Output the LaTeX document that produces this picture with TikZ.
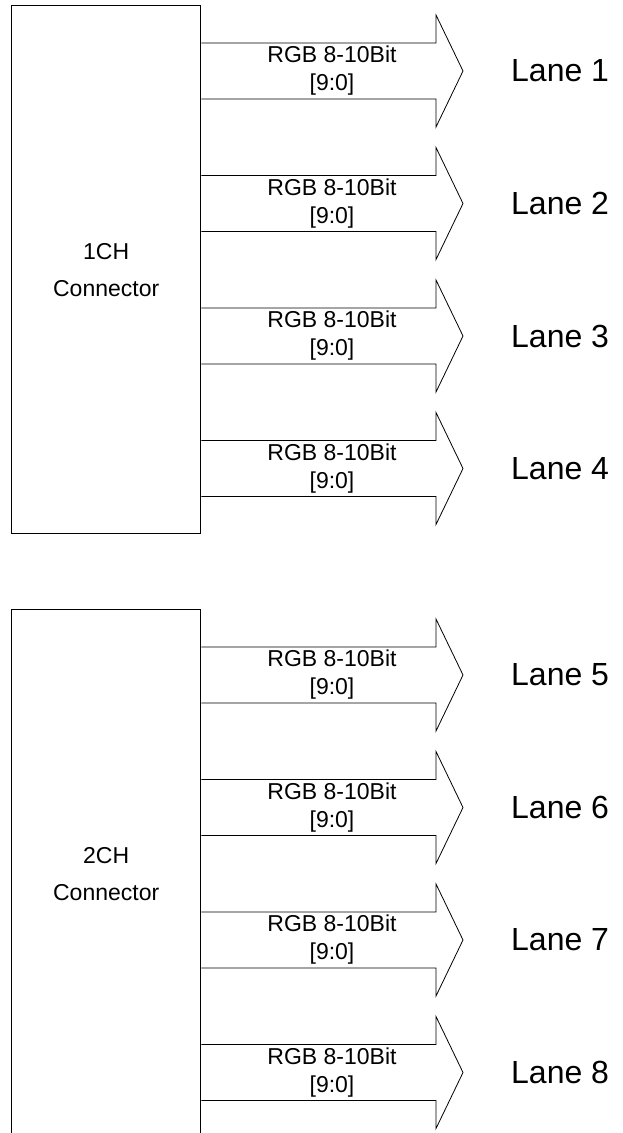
\documentclass[tikz,border=0pt]{standalone}
\usepackage{fontspec}
\setmainfont{Liberation Sans}
\usetikzlibrary{positioning}

\tikzset{
  connbox/.style={draw, line width=1.4pt, minimum width=189pt, minimum height=528pt,
    inner sep=0pt, align=center, font=\fontsize{23}{37}\selectfont},
  lanearrow/.style={draw, line width=0.8pt},
  buslabel/.style={align=center, inner sep=0pt, font=\fontsize{23}{28}\selectfont},
  lanelabel/.style={anchor=west, inner sep=0pt, font=\fontsize{32}{36}\selectfont}
}

\begin{document}
\begin{tikzpicture}[x=1pt, y=-1pt]
  \useasboundingbox (0,0) rectangle (622,1133);
  \clip (0,0) rectangle (622,1133);
  % 1CH connector, lanes 1-4
  \begin{scope}
    \node[connbox, anchor=north west] (conn1) at (11,5) {1CH\\Connector};
    \foreach \i/\lane in {0/1,1/2,2/3,3/4}{
      \pgfmathsetmacro\y{71+132.5*\i}
      \draw[lanearrow] (conn1.east |- 0,\y-28) -- (436,\y-28) -- (436,\y-56)
        -- (463,\y) -- (436,\y+56) -- (436,\y+28) -- (conn1.east |- 0,\y+28);
      \node[buslabel] (bus\lane) at (332,\y) {RGB 8-10Bit\\{[9:0]}};
      \node[lanelabel] (lane\lane) at (511,\y) {Lane \lane};
    }
  \end{scope}
  % 2CH connector, lanes 5-8
  \begin{scope}
    \node[connbox, anchor=north west] (conn2) at (11,609) {2CH\\Connector};
    \foreach \i/\lane in {0/5,1/6,2/7,3/8}{
      \pgfmathsetmacro\y{675+132.5*\i}
      \draw[lanearrow] (conn2.east |- 0,\y-28) -- (436,\y-28) -- (436,\y-56)
        -- (463,\y) -- (436,\y+56) -- (436,\y+28) -- (conn2.east |- 0,\y+28);
      \node[buslabel] (bus\lane) at (332,\y) {RGB 8-10Bit\\{[9:0]}};
      \node[lanelabel] (lane\lane) at (511,\y) {Lane \lane};
    }
  \end{scope}
\end{tikzpicture}
\end{document}
